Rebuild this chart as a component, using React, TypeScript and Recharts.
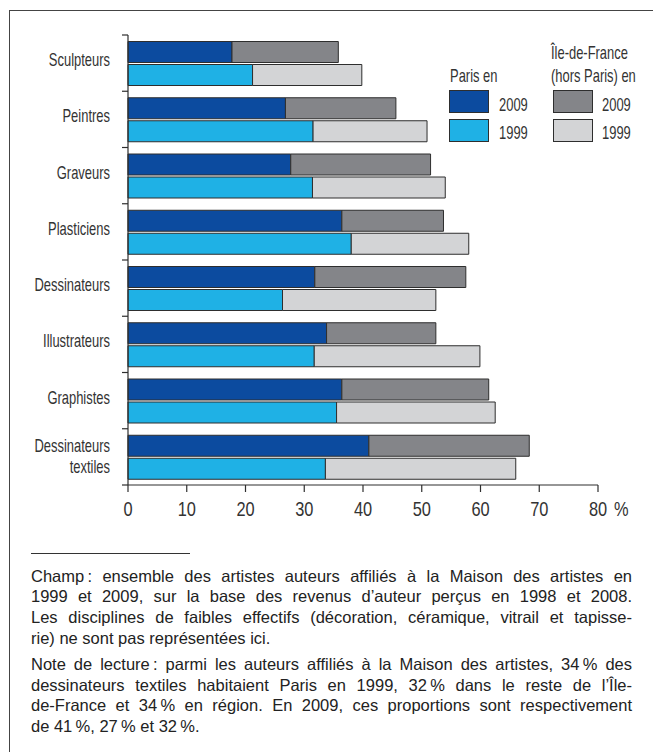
import React from 'react';
import { Bar, BarChart, XAxis, YAxis } from 'recharts';

const categories = [
  'Sculpteurs',
  'Peintres',
  'Graveurs',
  'Plasticiens',
  'Dessinateurs',
  'Illustrateurs',
  'Graphistes',
  'Dessinateurs textiles',
];
const paris2009 = [17.7, 26.8, 27.7, 36.4, 31.8, 33.8, 36.4, 41.0];
const idf2009 = [18.1, 18.8, 23.8, 17.3, 25.7, 18.6, 25.0, 27.3];
const paris1999 = [21.2, 31.5, 31.4, 38.0, 26.3, 31.7, 35.5, 33.6];
const idf1999 = [18.6, 19.4, 22.6, 20.0, 26.1, 28.2, 27.0, 32.4];
const xTicks = [0, 10, 20, 30, 40, 50, 60, 70, 80];

const noteChamp = [
  'Champ\u2009: ensemble des artistes auteurs affiliés à la Maison des artistes en',
  '1999 et 2009, sur la base des revenus d\u2019auteur perçus en 1998 et 2008.',
  'Les disciplines de faibles effectifs (décoration, céramique, vitrail et tapisse-',
  'rie) ne sont pas représentées ici.',
];
const noteLecture = [
  'Note de lecture\u2009: parmi les auteurs affiliés à la Maison des artistes, 34\u2009% des',
  'dessinateurs textiles habitaient Paris en 1999, 32\u2009% dans le reste de l\u2019Île-',
  'de-France et 34\u2009% en région. En 2009, ces proportions sont respectivement',
  'de 41\u2009%, 27\u2009% et 32\u2009%.',
];

const DARK_BLUE = '#0c4b9f';
const LIGHT_BLUE = '#1fb1e5';
const DARK_GREY = '#848589';
const LIGHT_GREY = '#d3d4d6';
const INK = '#2e2e2e';
const SANS = '"Liberation Sans", Arial, Helvetica, sans-serif';

const data = categories.map((name, i) => ({
  name,
  paris2009: paris2009[i],
  idf2009: idf2009[i],
  paris1999: paris1999[i],
  idf1999: idf1999[i],
}));

// condensed look: a regular sans squeezed horizontally
const Narrow = ({
  x,
  y,
  size,
  squeeze = 0.78,
  anchor = 'start',
  children,
}: {
  x: number;
  y: number;
  size: number;
  squeeze?: number;
  anchor?: 'start' | 'middle' | 'end';
  children: React.ReactNode;
}) => (
  <text
    transform={`translate(${x} ${y}) scale(${squeeze} 1)`}
    textAnchor={anchor}
    fontFamily={SANS}
    fontSize={size}
    fill="#333"
  >
    {children}
  </text>
);

// category labels, with the little ticks between the bands
const CategoryTick = (props: any) => {
  const { x, y, payload, index } = props;
  const half = payload?.offset ?? 28;
  const words = String(payload.value).split(' ');
  const baseY = words.length > 1 ? y - 5 : y + 3;
  return (
    <g>
      <line x1={x - 6} x2={x} y1={y - half} y2={y - half} stroke={INK} strokeWidth={1.2} />
      {index === categories.length - 1 && (
        <line x1={x - 6} x2={x} y1={y + half} y2={y + half} stroke={INK} strokeWidth={1.2} />
      )}
      {words.map((w, i) => (
        <Narrow key={w} x={x - 18} y={baseY + i * 21.5} size={18} squeeze={0.72} anchor="end">
          {w}
        </Narrow>
      ))}
    </g>
  );
};

const ValueTick = (props: any) => {
  const { x, y, payload } = props;
  return (
    <g>
      <Narrow x={x} y={y + 22} size={20} squeeze={0.82} anchor="middle">
        {payload.value}
      </Narrow>
      {payload.value === 80 && (
        <Narrow x={x + 16} y={y + 22} size={20} squeeze={0.82}>
          %
        </Narrow>
      )}
    </g>
  );
};

const Swatch = ({ x, y, color }: { x: number; y: number; color: string }) => (
  <div
    style={{
      position: 'absolute',
      left: x,
      top: y,
      width: 38,
      height: 21,
      background: color,
      border: `1px solid ${INK}`,
    }}
  />
);

export default function App() {
  return (
    <div
      style={{
        position: 'absolute',
        left: 0,
        top: 0,
        width: 653,
        height: 752,
        background: '#fff',
        overflow: 'hidden',
      }}
    >
      <div
        style={{
          position: 'absolute',
          left: 9,
          top: 10,
          right: 0,
          bottom: 0,
          borderTop: '1.5px solid #444',
          borderLeft: '1.5px solid #444',
        }}
      />

      <div style={{ position: 'absolute', left: 0, top: 0 }}>
        <BarChart
          width={653}
          height={530}
          data={data}
          layout="vertical"
          margin={{ top: 35, right: 55, bottom: 0, left: 0 }}
          barCategoryGap={6.5}
          barGap={2}
        >
          <XAxis
            type="number"
            domain={[0, 80]}
            ticks={xTicks}
            interval={0}
            axisLine={{ stroke: INK, strokeWidth: 1.2 }}
            tickLine={{ stroke: INK, strokeWidth: 1.2 }}
            tickSize={7}
            tickMargin={2}
            height={45}
            tick={<ValueTick />}
          />
          <YAxis
            type="category"
            dataKey="name"
            width={128}
            axisLine={{ stroke: INK, strokeWidth: 1.2 }}
            tickLine={false}
            tickSize={0}
            tickMargin={0}
            interval={0}
            tick={<CategoryTick />}
          />
          <Bar dataKey="paris2009" stackId="y2009" fill={DARK_BLUE} stroke={INK} strokeWidth={1} isAnimationActive={false} />
          <Bar dataKey="idf2009" stackId="y2009" fill={DARK_GREY} stroke={INK} strokeWidth={1} isAnimationActive={false} />
          <Bar dataKey="paris1999" stackId="y1999" fill={LIGHT_BLUE} stroke={INK} strokeWidth={1} isAnimationActive={false} />
          <Bar dataKey="idf1999" stackId="y1999" fill={LIGHT_GREY} stroke={INK} strokeWidth={1} isAnimationActive={false} />
        </BarChart>
      </div>

      {/* legend */}
      <svg style={{ position: 'absolute', left: 0, top: 0 }} width={653} height={160}>
        <Narrow x={450} y={81.7} size={17.5} squeeze={0.74}>Paris en</Narrow>
        <Narrow x={551} y={59} size={17.5} squeeze={0.74}>Île-de-France</Narrow>
        <Narrow x={551} y={81.7} size={17.5} squeeze={0.74}>(hors Paris) en</Narrow>
        <Narrow x={499} y={111} size={17.5} squeeze={0.74}>2009</Narrow>
        <Narrow x={499} y={139.3} size={17.5} squeeze={0.74}>1999</Narrow>
        <Narrow x={602} y={111} size={17.5} squeeze={0.74}>2009</Narrow>
        <Narrow x={602} y={139.3} size={17.5} squeeze={0.74}>1999</Narrow>
      </svg>
      <Swatch x={449} y={90} color={DARK_BLUE} />
      <Swatch x={449} y={118.5} color={LIGHT_BLUE} />
      <Swatch x={553} y={90} color={DARK_GREY} />
      <Swatch x={553} y={118.5} color={LIGHT_GREY} />

      {/* notes */}
      <div style={{ position: 'absolute', left: 31, top: 552.5, width: 159, height: 1, background: '#333' }} />
      <div
        style={{
          position: 'absolute',
          left: 31,
          top: 565.6,
          width: 601,
          fontFamily: SANS,
          fontSize: 16.5,
          lineHeight: '20.7px',
          color: '#222',
        }}
      >
        {[noteChamp, noteLecture].map((para, p) => (
          <div key={p} style={{ marginBottom: p === 0 ? 5.5 : 0 }}>
            {para.map((line, i) => (
              <div
                key={i}
                style={{
                  whiteSpace: 'nowrap',
                  textAlign: 'justify',
                  textAlignLast: i === para.length - 1 ? 'left' : 'justify',
                }}
              >
                {line}
              </div>
            ))}
          </div>
        ))}
      </div>
    </div>
  );
}
